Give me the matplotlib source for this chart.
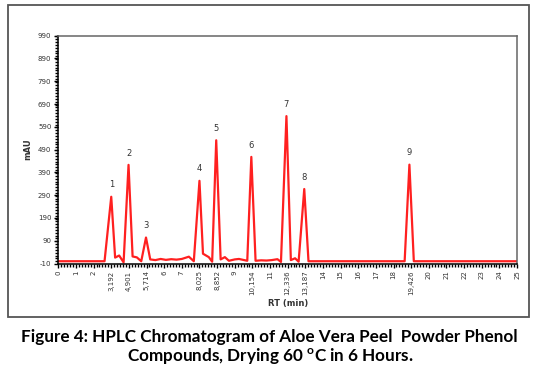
import matplotlib.pyplot as plt
from matplotlib.patches import Rectangle
from matplotlib.ticker import MultipleLocator

# retention position on the chart axis and detector signal (mAU)
rt = [0, 2.62, 3.0, 3.22, 3.45, 3.70, 3.98, 4.21, 4.45, 4.70, 4.97, 5.21,
      5.5, 5.8, 6.1, 6.4, 6.7, 7.0, 7.4, 7.68, 8.0, 8.2, 8.53, 8.72, 8.95,
      9.2, 9.44, 9.67, 10.0, 10.24, 10.71, 10.94, 11.18, 11.5, 11.8, 12.1,
      12.42, 12.62, 12.93, 13.18, 13.42, 13.62, 13.94, 14.18, 19.63, 19.9,
      20.15, 26]
mau = [0, 0, 283, 16, 25, -5, 423, 21, 17, 0, 104, 8,
       5, 10, 6, 9, 7, 10, 20, 0, 353, 33, 18, -2, 531,
       8, 18, 2, 8, 10, 2, 458, 2, 4, 3, 5,
       9, -3, 637, 5, 13, -2, 317, 0, 0, 424,
       0, 0]

peak_pos = [3.0, 3.98, 4.97, 8.0, 8.95, 10.94, 12.93, 13.94, 19.9]
peak_h = [283, 423, 104, 353, 531, 458, 637, 317, 424]
peak_names = ["1", "2", "3", "4", "5", "6", "7", "8", "9"]

xtick_labels = ["0", "1", "2", "3,192", "4,901", "5,714", "6", "7", "8,025",
                "8,852", "9", "10,154", "11", "12,336", "13,187", "14", "15",
                "16", "17", "18", "19,426", "20", "21", "22", "23", "24", "25"]
yticks = list(range(-10, 991, 100))

fig = plt.figure(figsize=(5.36, 3.75), dpi=100)
fig.patches.append(Rectangle((8 / 536, 1 - 317 / 375), 521 / 536, 312 / 375,
                             transform=fig.transFigure, fill=False,
                             edgecolor="#555555", linewidth=1.3))

ax = fig.add_axes([0.1088, 0.2973, 0.8558, 0.6075])
ax.plot(rt, mau, color="#ff2020", linewidth=1.6)

for x, h, name in zip(peak_pos, peak_h, peak_names):
    ax.text(x, h + 52, name, ha="center", va="center", fontsize=6,
            color="#333333")

ax.set_xlim(0, 26)
ax.set_ylim(-10, 990)
ax.set_xticks(range(len(xtick_labels)))
ax.set_xticklabels(xtick_labels, rotation=90, fontsize=5, color="#333333")
ax.set_yticks(yticks)
ax.set_yticklabels([str(v) for v in yticks], fontsize=5, color="#333333")
ax.xaxis.set_minor_locator(MultipleLocator(1 / 6))
ax.yaxis.set_minor_locator(MultipleLocator(12.5))
ax.tick_params(which="major", length=3, width=1, pad=2)
ax.tick_params(which="minor", length=2, width=1)

ax.spines["left"].set_color("black")
ax.spines["bottom"].set_color("black")
ax.spines["top"].set_color("#666666")
ax.spines["right"].set_color("#666666")
for s in ax.spines.values():
    s.set_linewidth(1.1)

ax.set_ylabel("mAU", fontsize=6, fontweight="bold", color="#333333", labelpad=4)
ax.set_xlabel("RT (min)", fontsize=6, fontweight="bold", color="#333333", labelpad=3)

fig.text(0.502, 1 - 337 / 375,
         "Figure 4: HPLC Chromatogram of Aloe Vera Peel  Powder Phenol",
         ha="center", va="center", fontsize=12.3, fontweight="bold",
         family="Lato")
fig.text(0.504, 1 - 357 / 375,
         "Compounds, Drying 60 $^\\mathregular{o}$C in 6 Hours.",
         ha="center", va="center", fontsize=12.3, fontweight="bold",
         family="Lato")

fig.savefig("out.png", dpi=100)
